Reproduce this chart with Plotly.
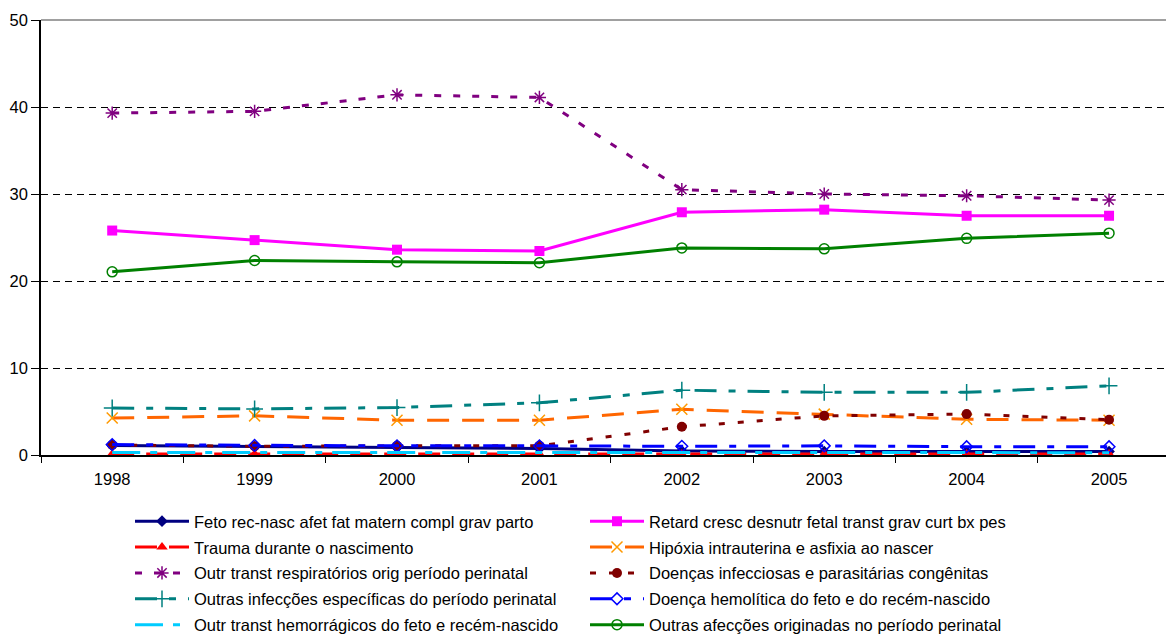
import plotly.graph_objects as go

anos = ["1998", "1999", "2000", "2001", "2002", "2003", "2004", "2005"]

feto_rec_nasc = [1.1, 0.95, 0.85, 0.75, 0.45, 0.4, 0.4, 0.4]
retard_cresc = [25.8, 24.7, 23.6, 23.45, 27.9, 28.2, 27.5, 27.5]
trauma_nasc = [0.12, 0.12, 0.12, 0.12, 0.12, 0.12, 0.12, 0.12]
hipoxia = [4.25, 4.5, 4.0, 4.0, 5.25, 4.7, 4.1, 4.0]
outr_resp = [39.3, 39.5, 41.4, 41.1, 30.5, 30.0, 29.8, 29.3]
doencas_infec = [1.15, 1.0, 1.05, 1.05, 3.25, 4.5, 4.7, 4.05]
outras_infec = [5.4, 5.3, 5.45, 6.0, 7.45, 7.2, 7.2, 7.95]
doenca_hemol = [1.2, 1.1, 1.05, 1.05, 1.0, 1.05, 0.95, 0.95]
outr_hemorr = [0.3, 0.3, 0.3, 0.3, 0.3, 0.3, 0.3, 0.27]
outras_afec = [21.05, 22.35, 22.2, 22.1, 23.8, 23.7, 24.9, 25.5]

series = [
    ("Feto rec-nasc afet fat matern compl grav parto", feto_rec_nasc,
     dict(color="#000080", width=3, dash="solid"),
     dict(symbol="diamond", size=9, color="#000080"), "legend"),
    ("Retard cresc desnutr fetal transt grav curt bx pes", retard_cresc,
     dict(color="#FF00FF", width=3, dash="solid"),
     dict(symbol="square", size=10, color="#FF00FF"), "legend2"),
    ("Trauma durante o nascimento", trauma_nasc,
     dict(color="#FF0000", width=3, dash="22px,12px"),
     dict(symbol="triangle-up", size=10, color="#FF0000"), "legend"),
    ("Hipóxia intrauterina e asfixia ao nascer", hipoxia,
     dict(color="#FF6600", width=3, dash="22px,13px"),
     dict(symbol="x-thin-open", size=11, color="#FF9900",
          line=dict(color="#FF9900", width=1.5)), "legend2"),
    ("Outr transt respiratórios orig período perinatal", outr_resp,
     dict(color="#800080", width=3, dash="7px,12px"),
     dict(symbol="asterisk-open", size=11, color="#800080",
          line=dict(color="#800080", width=1.5)), "legend"),
    ("Doenças infecciosas e parasitárias congênitas", doencas_infec,
     dict(color="#800000", width=3, dash="6px,13px"),
     dict(symbol="circle", size=10, color="#800000"), "legend2"),
    ("Outras infecções específicas do período perinatal", outras_infec,
     dict(color="#008080", width=3, dash="22px,12px,7px,12px"),
     dict(symbol="cross-thin-open", size=12, color="#008080",
          line=dict(color="#008080", width=1.5)), "legend"),
    ("Doença hemolítica do feto e do recém-nascido", doenca_hemol,
     dict(color="#0000FF", width=3, dash="22px,12px,7px,12px"),
     dict(symbol="diamond-open", size=9, color="#0000FF",
          line=dict(color="#0000FF", width=1.5)), "legend2"),
    ("Outr transt hemorrágicos do feto e recém-nascido", outr_hemorr,
     dict(color="#00CCFF", width=3, dash="28px,10px,7px,10px"),
     None, "legend"),
    ("Outras afecções originadas no período perinatal", outras_afec,
     dict(color="#008000", width=3, dash="solid"),
     dict(symbol="circle-open", size=10, color="#008000",
          line=dict(color="#008000", width=1.5)), "legend2"),
]

fig = go.Figure()
for i, (nome, valores, linha, marcador, leg) in enumerate(series):
    fig.add_trace(go.Scatter(
        x=anos, y=valores, name=nome,
        mode="lines+markers" if marcador else "lines",
        line=linha, marker=marcador if marcador else None,
        legend=leg, legendgroup=f"g{i}", cliponaxis=False,
    ))

font = dict(family="Liberation Sans, Arial, sans-serif", size=16.5, color="#000000")

fig.update_layout(
    width=1166, height=634,
    margin=dict(l=41, r=0, t=20, b=179, autoexpand=False),
    paper_bgcolor="white", plot_bgcolor="white",
    font=font,
    xaxis=dict(
        type="category", range=[-0.5, 7.4],
        showline=True, linecolor="black", linewidth=1.5,
        ticks="outside", ticklen=6, tickcolor="black", tickson="boundaries",
        showgrid=False, zeroline=False, tickfont=font, tickangle=0,
        ticklabelstandoff=8,
    ),
    yaxis=dict(
        range=[0, 50], dtick=10, tick0=0,
        showline=True, linecolor="black", linewidth=1.5,
        ticks="outside", ticklen=8, tickcolor="black",
        showgrid=True, gridcolor="black", gridwidth=1, griddash="7px,5px",
        zeroline=False, tickfont=font,
    ),
    legend=dict(
        xref="container", yref="container", x=130 / 1166, y=1 - 504 / 634,
        xanchor="left", yanchor="top", orientation="v",
        tracegroupgap=1.4, itemwidth=54, font=font, bgcolor="rgba(0,0,0,0)",
    ),
    legend2=dict(
        xref="container", yref="container", x=585 / 1166, y=1 - 504 / 634,
        xanchor="left", yanchor="top", orientation="v",
        tracegroupgap=1.4, itemwidth=54, font=font, bgcolor="rgba(0,0,0,0)",
    ),
    shapes=[dict(type="line", xref="paper", yref="paper", x0=0, x1=1, y0=1, y1=1,
                 line=dict(color="#808080", width=1.5))],
    showlegend=True,
)

fig.write_html("out.html")
